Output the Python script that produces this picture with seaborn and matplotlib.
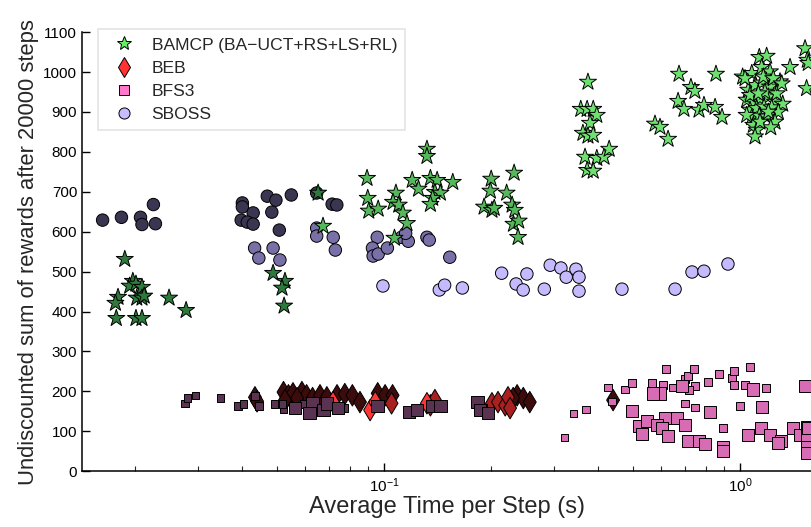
import pandas as pd
import seaborn as sns
import matplotlib.pyplot as plt
from matplotlib.colors import LinearSegmentedColormap
from matplotlib.lines import Line2D
from matplotlib.ticker import LogLocator, NullFormatter

# ---- BAMCP (stars) ----
bamcp_dark_x = [0.0187, 0.0197, 0.0193, 0.0201, 0.0209, 0.0179, 0.0176, 0.0202, 0.0209, 0.0212,
                0.0177, 0.0201, 0.0209, 0.0249, 0.0278, 0.0488, 0.0527, 0.0517, 0.0524, 0.0653]
bamcp_dark_y = [531, 476, 464, 469, 461, 436, 421, 434, 434, 439,
                383, 383, 383, 434, 403, 496, 476, 459, 414, 697]
bamcp_mid_x = [0.0674, 0.0896, 0.0900, 0.0906, 0.0963, 0.108, 0.106, 0.110, 0.113, 0.116, 0.107,
               0.120, 0.125, 0.132, 0.132, 0.135, 0.141, 0.139, 0.144, 0.137, 0.135, 0.156,
               0.200, 0.199, 0.191, 0.201, 0.204, 0.232, 0.221, 0.229, 0.233, 0.231, 0.239, 0.238]
bamcp_mid_y = [614, 734, 684, 652, 657, 697, 674, 667, 647, 621, 584,
               729, 707, 807, 789, 734, 729, 699, 697, 684, 669, 724,
               732, 702, 662, 654, 659, 747, 697, 667, 654, 619, 627, 586]
bamcp_light_x = [0.374, 0.357, 0.372, 0.387, 0.396, 0.379, 0.362, 0.374, 0.387, 0.367, 0.396,
                 0.415, 0.429, 0.372, 0.387,
                 0.577, 0.596, 0.628, 0.674, 0.728, 0.747, 0.670, 0.696, 0.767, 0.792, 0.851,
                 0.890, 0.856,
                 1.017, 1.079, 1.133, 1.188, 1.150, 1.214, 1.055, 1.102, 1.150, 1.214, 1.295,
                 1.382, 1.044, 1.090, 1.138, 1.201, 1.254, 1.318, 1.067, 1.114, 1.168, 1.227,
                 1.281, 1.079, 1.133, 1.188, 1.090, 1.114, 1.254, 1.220, 1.102, 1.033, 1.163,
                 1.240, 1.067, 1.175, 1.268, 1.126, 1.044, 1.138, 1.201, 1.310,
                 1.523, 1.545, 1.555, 1.538]
bamcp_light_y = [975, 907, 907, 907, 892, 872, 847, 840, 842, 787, 784,
                 787, 807, 754, 752,
                 870, 862, 832, 995, 962, 952, 927, 907, 905, 917, 912,
                 887, 995,
                 988, 997, 1037, 1040, 1012, 1001, 955, 967, 973, 963, 976,
                 1012, 930, 925, 934, 938, 925, 920, 905, 909, 913, 911,
                 900, 886, 890, 888, 867, 855, 875, 861, 838, 984, 988,
                 984, 942, 950, 946, 946, 892, 875, 900, 971,
                 1059, 1030, 1022, 959]

# ---- BEB (diamonds) ----
beb_dark_x = [0.0434, 0.0440, 0.0522, 0.0539, 0.0555, 0.0588, 0.0606, 0.0570, 0.0527, 0.0630,
              0.0661, 0.0691, 0.0738, 0.0776, 0.0815, 0.0856, 0.0960, 0.1007, 0.1057,
              0.2365, 0.2462, 0.2567, 0.2306, 0.440]
beb_dark_y = [185, 175, 198, 190, 195, 198, 190, 183, 178, 183,
              190, 185, 190, 193, 190, 173, 195, 190, 190,
              190, 183, 173, 183, 178]
beb_mid_x = [0.105, 0.135, 0.139, 0.201, 0.209, 0.219, 0.223, 0.226]
beb_mid_y = [170, 165, 178, 170, 173, 165, 185, 158]
beb_bright_x = [0.0719, 0.0914, 0.0945, 0.132]
beb_bright_y = [173, 153, 173, 170]

# ---- BFS3 (squares) ----
bfs3_dark_small_x = [0.0276, 0.0280, 0.0295, 0.0348, 0.0389, 0.0403, 0.0434, 0.0445, 0.0492,
                     0.0522, 0.0518, 0.0595, 0.0776, 0.190]
bfs3_dark_small_y = [170, 183, 190, 183, 163, 168, 188, 163, 168,
                     155, 168, 168, 158, 160]
bfs3_dark_large_x = [0.0562, 0.0630, 0.0617, 0.0676, 0.0691, 0.0743, 0.0960, 0.1174, 0.1239,
                     0.1364, 0.1440, 0.183, 0.186, 0.196]
bfs3_dark_large_y = [158, 170, 145, 153, 170, 158, 163, 148, 153,
                     163, 163, 173, 153, 145]
bfs3_pink_small_x = [0.321, 0.340, 0.369, 0.426, 0.475, 0.497, 0.437, 0.566, 0.608, 0.620, 0.648,
                     0.701, 0.714, 0.743, 0.747, 0.719, 0.813, 0.873, 0.950, 0.962, 0.962,
                     1.067, 1.033, 1.183, 1.000, 0.701, 0.747, 0.896]
bfs3_pink_small_y = [85, 145, 155, 210, 205, 221, 175, 221, 216, 256, 210,
                     231, 238, 256, 213, 203, 223, 243, 233, 251, 216,
                     261, 216, 208, 163, 170, 160, 108]
bfs3_pink_large_x = [0.596, 0.570, 0.687, 1.088, 0.497, 0.616, 0.665, 0.823, 1.153, 0.520, 0.548,
                     0.585, 0.604, 0.701, 0.531, 0.628, 0.714, 0.767, 0.797, 0.896, 1.053,
                     1.146, 1.214, 1.304, 1.279, 1.409, 1.474, 1.542, 1.542, 1.542, 1.523,
                     1.552, 0.896, 1.542]
bfs3_pink_large_y = [195, 195, 213, 205, 150, 133, 133, 148, 160, 113, 125,
                     115, 108, 115, 93, 88, 75, 75, 68, 60, 90,
                     108, 90, 75, 70, 108, 90, 110, 83, 60, 213,
                     108, 50, 45]

# ---- SBOSS (circles) ----
sboss_dark_x = [0.0162, 0.0183, 0.0207, 0.0209, 0.0228, 0.0225,
                0.0400, 0.0400, 0.0429, 0.0397, 0.0413, 0.0429, 0.0470, 0.0497, 0.0549,
                0.0484, 0.0508, 0.0647, 0.0715, 0.0737]
sboss_dark_y = [629, 636, 636, 618, 620, 668,
                672, 662, 647, 629, 624, 619, 689, 679, 692,
                649, 604, 697, 669, 667]
sboss_mid_x = [0.0433, 0.0445, 0.0488, 0.0510, 0.0647, 0.0647, 0.0720, 0.0730,
               0.0957, 0.0928, 0.0932, 0.0963, 0.1022, 0.112, 0.117, 0.115, 0.132, 0.134, 0.153]
sboss_mid_y = [559, 534, 559, 529, 609, 589, 586, 554,
               586, 559, 539, 544, 559, 586, 576, 596, 586, 579, 536]
sboss_light_x = [0.0993, 0.143, 0.148, 0.166, 0.214, 0.235, 0.246, 0.252, 0.282, 0.293, 0.314,
                 0.325, 0.346, 0.353, 0.353, 0.466, 0.657, 0.733, 0.792, 0.925]
sboss_light_y = [464, 454, 466, 459, 496, 469, 454, 494, 456, 516, 509,
                 486, 506, 486, 451, 456, 456, 499, 501, 519]


def frame(groups):
    parts = [pd.DataFrame({"x": gx, "y": gy, "level": lv}) for gx, gy, lv in groups]
    return pd.concat(parts, ignore_index=True)


bamcp = frame([(bamcp_dark_x, bamcp_dark_y, 0.0), (bamcp_mid_x, bamcp_mid_y, 0.5),
               (bamcp_light_x, bamcp_light_y, 1.0)])
beb = frame([(beb_dark_x, beb_dark_y, 0.0), (beb_mid_x, beb_mid_y, 0.5),
             (beb_bright_x, beb_bright_y, 1.0)])
bfs3_small = frame([(bfs3_dark_small_x, bfs3_dark_small_y, 0.0),
                    (bfs3_pink_small_x, bfs3_pink_small_y, 1.0)])
bfs3_large = frame([(bfs3_dark_large_x, bfs3_dark_large_y, 0.0),
                    (bfs3_pink_large_x, bfs3_pink_large_y, 1.0)])
sboss = frame([(sboss_dark_x, sboss_dark_y, 0.0), (sboss_mid_x, sboss_mid_y, 0.5),
               (sboss_light_x, sboss_light_y, 1.0)])

green = LinearSegmentedColormap.from_list("g", ["#2e7a3c", "#55b85a", "#6ee070"])
red = LinearSegmentedColormap.from_list("r", ["#3c0c0c", "#a82020", "#ff3434"])
pink = LinearSegmentedColormap.from_list("p", ["#5a3252", "#d86cb4"])
lav = LinearSegmentedColormap.from_list("l", ["#3a3652", "#7a70a8", "#c6baff"])

sns.set_style("white")
plt.rcParams["font.family"] = ["Liberation Sans", "DejaVu Sans"]
plt.rcParams["mathtext.default"] = "regular"
plt.rcParams["xtick.direction"] = "in"
plt.rcParams["ytick.direction"] = "in"

fig = plt.figure(figsize=(8.12, 5.27), dpi=100)
ax = fig.add_axes([0.101, 0.106, 0.899, 0.833])

common = dict(x="x", y="y", hue="level", hue_norm=(0, 1), edgecolor="black",
              linewidth=0.7, legend=False, ax=ax, clip_on=True)
sns.scatterplot(data=beb, marker="d", s=120, palette=red, zorder=2, **common)
sns.scatterplot(data=bfs3_small, marker="s", s=28, palette=pink, zorder=3, **common)
sns.scatterplot(data=bfs3_large, marker="s", s=80, palette=pink, zorder=3, **common)
sns.scatterplot(data=sboss, marker="o", s=80, palette=lav, zorder=2, **common)
sns.scatterplot(data=bamcp, marker="*", s=165, palette=green, zorder=4, **common)

ax.set_xscale("log")
ax.set_xlim(0.01418, 1.593)
ax.set_ylim(0, 1100)
ax.set_yticks(range(0, 1101, 100))
ax.xaxis.set_minor_locator(LogLocator(base=10, subs=range(2, 10)))
ax.xaxis.set_minor_formatter(NullFormatter())
ax.tick_params(axis="both", which="major", direction="in", length=6, width=1,
               labelsize=11, colors="black", left=True, bottom=True)
ax.tick_params(axis="x", which="minor", direction="in", length=3.5, width=0.8, bottom=True)

sns.despine(ax=ax)
for side in ["left", "bottom"]:
    ax.spines[side].set_color("black")
    ax.spines[side].set_linewidth(1.1)

ax.set_xlabel("Average Time per Step (s)", fontsize=17, labelpad=1)
ax.set_ylabel("Undiscounted sum of rewards after 20000 steps", fontsize=15.8, labelpad=3)

handles = [
    Line2D([], [], ls="none", marker="*", markersize=10, markerfacecolor="#66ee66",
           markeredgecolor="black", markeredgewidth=0.7),
    Line2D([], [], ls="none", marker="d", markersize=10, markerfacecolor="#ff3333",
           markeredgecolor="black", markeredgewidth=0.7),
    Line2D([], [], ls="none", marker="s", markersize=7.5, markerfacecolor="#ff77cc",
           markeredgecolor="black", markeredgewidth=0.7),
    Line2D([], [], ls="none", marker="o", markersize=8, markerfacecolor="#c8bbff",
           markeredgecolor="black", markeredgewidth=0.7),
]
labels = ["BAMCP (BA\u2212UCT+RS+LS+RL)", "BEB", "BFS3", "SBOSS"]
leg = ax.legend(handles, labels, loc="upper left", bbox_to_anchor=(0.015, 1.018),
                fontsize=12.6, frameon=True, fancybox=False, borderpad=0.45,
                handletextpad=0.6, labelspacing=0.45, borderaxespad=0.3)
leg.get_frame().set_edgecolor("#dddddd")
leg.get_frame().set_linewidth(1.2)

fig.savefig("out.png", dpi=100)
